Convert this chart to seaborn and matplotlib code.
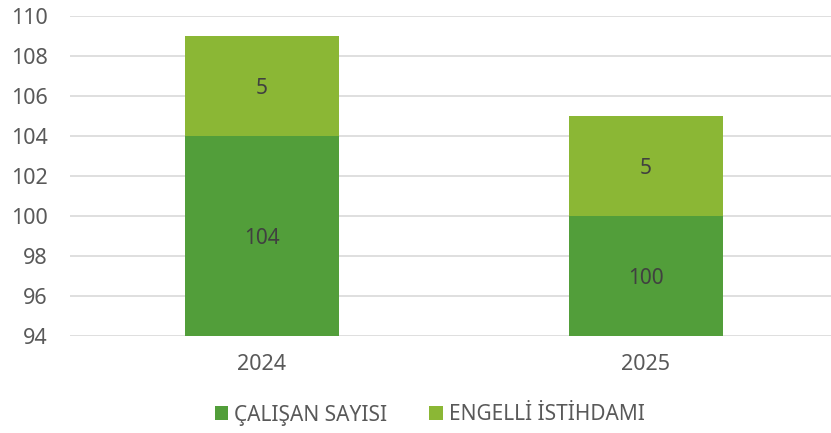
import matplotlib
matplotlib.use("Agg")
import matplotlib.pyplot as plt
import seaborn as sns
import pandas as pd
from matplotlib.patches import Patch

years = ["2024", "2025"]
calisan = [104, 100]
engelli = [5, 5]
y_ticks = [94, 96, 98, 100, 102, 104, 106, 108, 110]
series_names = ["ÇALIŞAN SAYISI", "ENGELLİ İSTİHDAMI"]

dark = "#529E3A"
light = "#8BB735"
text_c = "#595959"
grid_c = "#D9D9D9"

sns.set_theme(style="white")
plt.rcParams["font.family"] = ["Noto Sans", "DejaVu Sans"]

totals = [c + e for c, e in zip(calisan, engelli)]
df = pd.DataFrame({"year": years, "calisan": calisan, "engelli": engelli, "total": totals})

fig = plt.figure(figsize=(8.31, 4.33), dpi=100)
ax = fig.add_axes([70 / 831, 1 - 336 / 433, 768 / 831, (336 - 16) / 433])

sns.barplot(data=df, x="year", y="total", color=light, width=0.40, ax=ax,
            saturation=1, zorder=2, linewidth=0)
sns.barplot(data=df, x="year", y="calisan", color=dark, width=0.40, ax=ax,
            saturation=1, zorder=3, linewidth=0)

ymin, ymax = y_ticks[0], y_ticks[-1]
ax.set_ylim(ymin, ymax)
ax.set_xlim(-0.5, len(years) - 0.5)
ax.set_yticks(y_ticks)
ax.set_yticklabels([str(t) for t in y_ticks])
ax.yaxis.grid(True, color=grid_c, linewidth=1.2, zorder=0)
ax.set_axisbelow(True)
for s in ax.spines.values():
    s.set_visible(False)
ax.set_xlabel("")
ax.set_ylabel("")
ax.tick_params(axis="both", length=0, labelsize=15.5, labelcolor=text_c)
ax.tick_params(axis="x", pad=13)
ax.tick_params(axis="y", pad=16)

for i, (c, e) in enumerate(zip(calisan, engelli)):
    ax.text(i, (ymin + c) / 2, str(c), ha="center", va="center_baseline", fontsize=15, color="#404040", zorder=5)
    ax.text(i, c + e / 2, str(e), ha="center", va="center_baseline", fontsize=15, color="#404040", zorder=5)

handles = [Patch(facecolor=dark, edgecolor="none"), Patch(facecolor=light, edgecolor="none")]
fig.legend(handles, series_names, loc="center", bbox_to_anchor=(0.517, 1 - 415 / 433), ncol=2,
           frameon=False, fontsize=15, labelcolor=text_c, handlelength=0.65, handleheight=0.65,
           handletextpad=0.3, columnspacing=2.0)

fig.savefig("out.png", dpi=100)
